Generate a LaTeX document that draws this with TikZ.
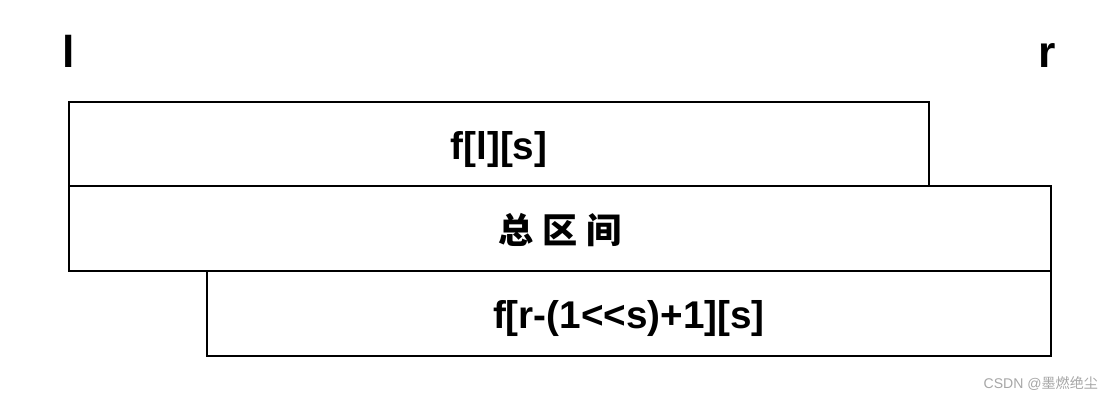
\documentclass[tikz,border=0pt]{standalone}
\usepackage{fontspec}
\setmainfont{Liberation Sans}
\newfontfamily\cjk{Noto Sans CJK SC}

\tikzset{
    seg/.style={draw=black, line width=2.4pt, inner sep=0pt, text height=28pt, text depth=1.6pt,
        font=\fontsize{33}{36}\selectfont\bfseries},
    endlbl/.style={font=\fontsize{38}{40}\selectfont\bfseries, inner sep=0pt, anchor=base}
}

\begin{document}
\begin{tikzpicture}[x=0.03cm, y=-0.03cm]
                % Fix the page size
                \useasboundingbox (0,0) rectangle (1118,402);

                % Ends of the range
                \node[endlbl] (lend) at (69,68) {l};
                \node[endlbl] (rend) at (1047,68) {r};

                % The three intervals
                \node[seg, minimum width=25.8cm, minimum height=2.52cm] (left) at (499,144) {f[l][s]};
                \node[seg, minimum width=29.46cm, minimum height=2.55cm] (whole) at (560,228.5) {\cjk\fontsize{30}{33}\selectfont\bfseries 总\hspace{0.25em}区\hspace{0.25em}间};
                \node[seg, minimum width=25.32cm, minimum height=2.55cm] (right) at (629,313.5) {f[r-(1<{}<s)+1][s]};

                % Watermark
                \node[text=black!35, font=\fontsize{12}{14}\selectfont, anchor=east] (mark) at (1102,383) {CSDN @\cjk 墨燃绝尘};
            \end{tikzpicture}
\end{document}
